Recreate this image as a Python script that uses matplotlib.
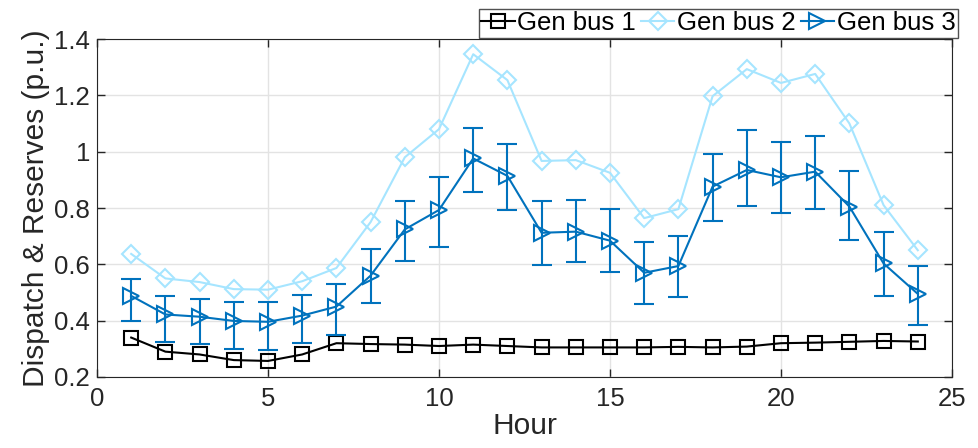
import matplotlib
matplotlib.use('Agg')
import numpy as np
from matplotlib import pyplot as plt

plt.rcParams['font.family'] = ['Liberation Sans', 'DejaVu Sans']

# hours 1..24
hours = list(range(1, 25))

# Gen bus 1 dispatch
bus1 = [0.34, 0.29, 0.28, 0.26, 0.257, 0.28, 0.32, 0.317, 0.315, 0.31, 0.315, 0.31,
        0.305, 0.305, 0.305, 0.305, 0.307, 0.305, 0.308, 0.32, 0.322, 0.325, 0.328, 0.326]

# Gen bus 2 dispatch
bus2 = [0.637, 0.55, 0.537, 0.512, 0.51, 0.54, 0.587, 0.75, 0.98, 1.08, 1.346, 1.254,
        0.967, 0.97, 0.925, 0.764, 0.796, 1.197, 1.293, 1.244, 1.276, 1.10, 0.81, 0.65]

# Gen bus 3 dispatch with reserve range
bus3 = [0.488, 0.422, 0.414, 0.399, 0.396, 0.418, 0.45, 0.56, 0.724, 0.793, 0.976, 0.914,
        0.712, 0.716, 0.684, 0.57, 0.594, 0.876, 0.935, 0.909, 0.929, 0.805, 0.603, 0.495]
bus3_hi = [0.549, 0.486, 0.476, 0.467, 0.467, 0.49, 0.53, 0.654, 0.826, 0.91, 1.085, 1.027,
           0.826, 0.83, 0.796, 0.679, 0.70, 0.993, 1.076, 1.033, 1.057, 0.932, 0.715, 0.595]
bus3_lo = [0.398, 0.323, 0.316, 0.298, 0.296, 0.32, 0.35, 0.461, 0.613, 0.663, 0.858, 0.793,
           0.596, 0.607, 0.573, 0.46, 0.483, 0.754, 0.806, 0.782, 0.796, 0.685, 0.489, 0.385]

yerr = [np.array(bus3) - np.array(bus3_lo), np.array(bus3_hi) - np.array(bus3)]

fig = plt.figure(figsize=(9.79, 4.48), dpi=100)
ax = fig.add_axes([97/979, 1 - 377/448, 855/979, 338/448])

ax.plot(hours, bus1, color='black', lw=1.5, marker='s', ms=9.5, mfc='none', mew=1.5,
        label='Gen bus 1')
ax.plot(hours, bus2, color='#A6E5FF', lw=1.5, marker='D', ms=9, mfc='none', mew=1.5,
        label='Gen bus 2')
ax.errorbar(hours, bus3, yerr=yerr, fmt='none', ecolor='#0072BD', capsize=7,
            capthick=1.5, elinewidth=1.5)
ax.plot(hours, bus3, color='#0072BD', lw=1.5, marker='>', ms=11, mfc='none', mew=1.5,
        label='Gen bus 3')

ax.set_xlim(0, 25)
ax.set_ylim(0.2, 1.4)
ax.set_xticks([0, 5, 10, 15, 20, 25])
ax.set_yticks([0.2, 0.4, 0.6, 0.8, 1.0, 1.2, 1.4])
ax.set_yticklabels(['0.2', '0.4', '0.6', '0.8', '1', '1.2', '1.4'])
ax.grid(True, color='#E3E3E3', lw=1)
ax.set_axisbelow(True)
ax.tick_params(direction='in', top=True, right=True, labelsize=18.5, colors='#262626',
               length=6, width=1)
ax.tick_params(axis='x', pad=7)
ax.tick_params(axis='y', pad=5)
for s in ax.spines.values():
    s.set_color('#262626')
ax.set_xlabel('Hour', fontsize=21.5, color='#262626', labelpad=1)
ax.set_ylabel('Dispatch & Reserves (p.u.)', fontsize=21.5, color='#262626', labelpad=3)

handles, labels = ax.get_legend_handles_labels()
leg = fig.legend(handles, labels, loc='lower right', ncol=3,
                 bbox_to_anchor=(958/979, 1 - 38/448), bbox_transform=fig.transFigure,
                 fontsize=18.5, frameon=True, fancybox=False, edgecolor='#262626',
                 handlelength=1.3, handletextpad=0.1, columnspacing=0.2,
                 borderpad=0.1, borderaxespad=0)
leg.get_frame().set_linewidth(1)

fig.savefig('out.png', dpi=100)
